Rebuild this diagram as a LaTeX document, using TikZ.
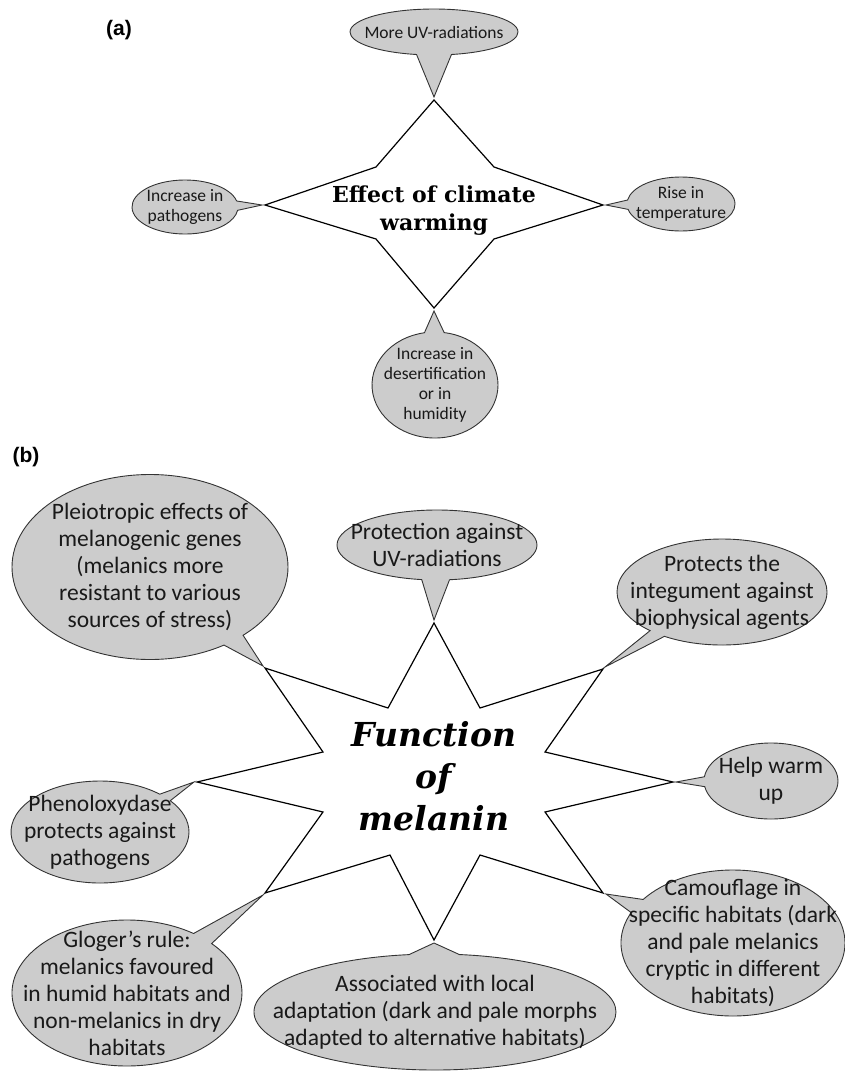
\documentclass[tikz,border=0pt]{standalone}
\usepackage{fontspec}
\usetikzlibrary{shapes.callouts}
\newfontfamily\bubfont{Carlito}
\newfontfamily\heavyfont{DejaVu Serif}[UprightFont=* Bold, ItalicFont=* Bold Italic]
\newfontfamily\labfont{Liberation Sans}
\begin{document}
\begin{tikzpicture}[x=1pt,y=-1pt,
  bubble/.style={ellipse callout, draw=black!80, fill=black!20, line width=0.9pt,
    inner sep=-60pt, align=center, text=black!90},
  bubA/.style={bubble, font=\bubfont\fontsize{17.5}{20}\selectfont},
  bubB/.style={bubble, font=\bubfont\fontsize{23.5}{27}\selectfont},
  starline/.style={draw=black, line width=1.2pt, line join=miter},
  panel/.style={font=\labfont\bfseries\fontsize{21}{24}\selectfont, inner sep=0pt},
  headA/.style={font=\heavyfont\fontsize{22}{28}\selectfont, align=center, inner sep=0pt, text=black},
  headB/.style={font=\heavyfont\itshape\fontsize{33}{42}\selectfont, align=center, inner sep=0pt, text=black}
]
\useasboundingbox (0,0) rectangle (845,1071);

% ---------- panel (a) ----------
\node[panel] (la) at (119,30) {(a)};
\coordinate (a0) at (434,100);
\coordinate (a01) at (494,167);
\coordinate (a1) at (603,205);
\coordinate (a12) at (494,239);
\coordinate (a2) at (434,308);
\coordinate (a23) at (376,239);
\coordinate (a3) at (265,205);
\coordinate (a30) at (376,167);
\draw[starline] (a0)--(a01)--(a1)--(a12)--(a2)--(a23)--(a3)--(a30)--cycle;
\node[headA] (ahead) at (434,211) {Effect of climate\\warming};

\coordinate (pa0) at (434,97);
\coordinate (pa1) at (606,205);
\coordinate (pa2) at (434,311);
\coordinate (pa3) at (262,205);

\node[bubA, minimum width=168pt, minimum height=46pt,
  callout absolute pointer={(pa0)}, callout pointer arc=24] (uv) at (434,32) {More UV-radiations};
\node[bubA, minimum width=108pt, minimum height=54pt,
  callout absolute pointer={(pa1)}, callout pointer arc=20] (temp) at (681,204) {Rise in\\temperature};
\node[bubA, minimum width=106pt, minimum height=54pt,
  callout absolute pointer={(pa3)}, callout pointer arc=20] (path) at (185,207) {Increase in\\pathogens};
\node[bubA, minimum width=126pt, minimum height=106pt,
  callout absolute pointer={(pa2)}, callout pointer arc=18] (des) at (435,385) {Increase in\\desertification\\or in\\humidity};

% ---------- panel (b) ----------
\node[panel] (lb) at (26,457) {(b)};
\coordinate (b0) at (434,623);
\coordinate (b01) at (480,708);
\coordinate (b1) at (603,669);
\coordinate (b12) at (545,752);
\coordinate (b2) at (673,782);
\coordinate (b23) at (545,812);
\coordinate (b3) at (603,893);
\coordinate (b34) at (480,855);
\coordinate (b4) at (434,940);
\coordinate (b45) at (390,855);
\coordinate (b5) at (265,893);
\coordinate (b56) at (323,812);
\coordinate (b6) at (197,782);
\coordinate (b67) at (323,752);
\coordinate (b7) at (265,668);
\coordinate (b70) at (388,708);
\draw[starline] (b0)--(b01)--(b1)--(b12)--(b2)--(b23)--(b3)--(b34)--(b4)--(b45)--(b5)--(b56)--(b6)--(b67)--(b7)--(b70)--cycle;
\node[headB] (bhead) at (434,776) {Function\\of\\melanin};

\coordinate (pb0) at (434,620);
\coordinate (pb1) at (605,667);
\coordinate (pb2) at (676,782);
\coordinate (pb3) at (606,894);
\coordinate (pb4) at (434,943);
\coordinate (pb5) at (263,895);
\coordinate (pb6) at (194,782);
\coordinate (pb7) at (263,666);

\node[bubB, minimum width=276pt, minimum height=185pt,
  callout absolute pointer={(pb7)}, callout pointer arc=10] (pleio) at (150,567)
  {Pleiotropic effects of\\melanogenic genes\\(melanics more\\resistant to various\\sources of stress)};
\node[bubB, minimum width=200pt, minimum height=70pt,
  callout absolute pointer={(pb0)}, callout pointer arc=16] (uvb) at (437,545)
  {Protection against\\UV-radiations};
\node[bubB, minimum width=210pt, minimum height=106pt,
  callout absolute pointer={(pb1)}, callout pointer arc=10] (integ) at (722,592)
  {Protects the\\integument against\\biophysical agents};
\node[bubB, minimum width=134pt, minimum height=76pt,
  callout absolute pointer={(pb2)}, callout pointer arc=15] (warm) at (771,781)
  {Help warm\\up};
\node[bubB, minimum width=178pt, minimum height=102pt,
  callout absolute pointer={(pb6)}, callout pointer arc=10] (phen) at (100,832)
  {Phenoloxydase\\protects against\\pathogens};
\node[bubB, minimum width=224pt, minimum height=146pt,
  callout absolute pointer={(pb3)}, callout pointer arc=12] (camo) at (733,943)
  {Camouflage in\\specific habitats (dark\\and pale melanics\\cryptic in different\\habitats)};
\node[bubB, minimum width=230pt, minimum height=146pt,
  callout absolute pointer={(pb5)}, callout pointer arc=12] (glog) at (127,993)
  {Gloger’s rule:\\melanics favoured\\in humid habitats and\\non-melanics in dry\\habitats};
\node[bubB, minimum width=362pt, minimum height=116pt,
  callout absolute pointer={(pb4)}, callout pointer arc=16] (assoc) at (435,1012)
  {Associated with local\\adaptation (dark and pale morphs\\adapted to alternative habitats)};
\end{tikzpicture}
\end{document}
